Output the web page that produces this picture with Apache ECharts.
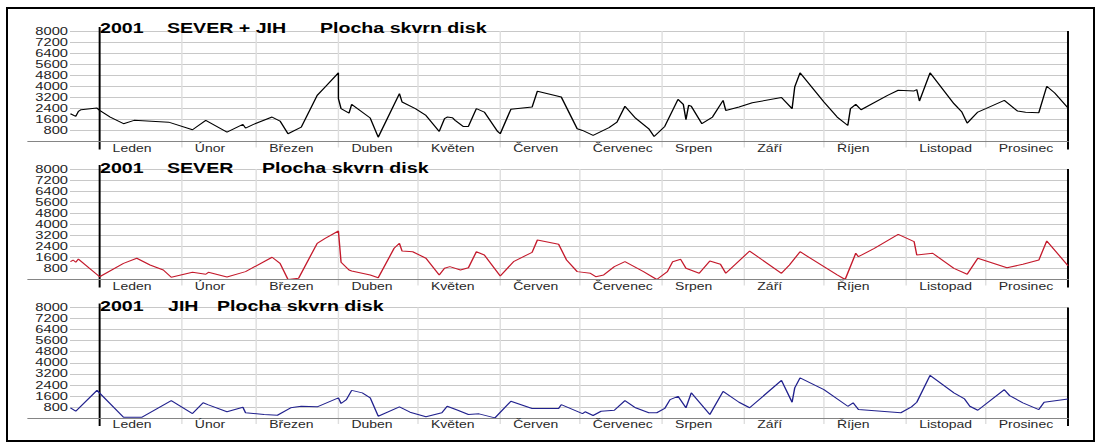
<!DOCTYPE html>
<html>
<head>
<meta charset="utf-8">
<title>2001 Plocha skvrn disk</title>
<script src="https://cdn.jsdelivr.net/npm/echarts@6/dist/echarts.min.js"></script>
<style>
  html, body { margin: 0; padding: 0; background: #fff; }
  #chart {
    position: absolute; left: 0; top: 0;
    width: 782px; height: 443px;
    /* the chart is laid out on a narrower canvas and stretched to full width,
       which gives the wide, flat lettering of the original plot */
    transform: scaleX(1.40026); transform-origin: 0 0;
  }
  #frame {
    position: absolute; left: 6px; top: 7px;
    width: 1085px; height: 431px;
    border: 2px solid #000; pointer-events: none;
  }
</style>
</head>
<body>
<div id="chart"></div>
<div id="frame"></div>
<script>
// ---- data ---------------------------------------------------------------
// x = day of year 2001 (0 = 1 January, negative = end of December 2000)
// y = sunspot area on the disk

const monthNames = ['Leden', 'Únor', 'Březen', 'Duben', 'Květen', 'Červen',
                    'Červenec', 'Srpen', 'Září', 'Říjen', 'Listopad', 'Prosinec'];
const monthStarts = [0, 31, 59, 90, 120, 151, 181, 212, 243, 273, 304, 334];
const yearEnd = 365;

const panelTitles = [
  ['2001', 'SEVER + JIH', 'Plocha skvrn disk'],
  ['2001', 'SEVER', 'Plocha skvrn disk'],
  ['2001', 'JIH', 'Plocha skvrn disk']
];

// SEVER + JIH
const totalDays = [-11, -9, -8, -7, -1, 0, 4, 9, 13, 26, 35, 40, 48, 54, 55, 58, 65, 68, 71, 76,
  82, 85, 90, 90, 91, 94, 95, 102, 105, 113, 114, 119, 123, 128, 130, 131, 133, 134, 137, 139,
  142, 145, 150, 151, 155, 163, 165, 174, 180, 182, 186, 192, 195, 198, 202, 207, 209, 213, 218, 220,
  221, 222, 223, 227, 231, 235, 236, 241, 246, 257, 261, 262, 264, 273, 278, 282, 283, 285, 287, 297,
  301, 307, 308, 309, 313, 322, 325, 327, 331, 334, 341, 346, 349, 354, 357, 360, 365];
const totalArea = [2010, 1820, 2180, 2300, 2420, 2250, 1770, 1290, 1530, 1400, 850, 1530, 680, 1240, 970, 1240, 1770, 1480, 560, 1040,
  3340, 3950, 4970, 3100, 2380, 2060, 2690, 1700, 310, 3470, 2860, 2380, 1890, 730, 1650, 1770, 1720, 1530, 1090, 1090,
  2380, 2130, 730, 560, 2330, 2490, 3640, 3220, 920, 800, 440, 1000, 1400, 2550, 1690, 920, 360, 1090, 3050, 2690,
  1580, 2620, 2550, 1290, 1770, 2980, 2250, 2500, 2800, 3180, 2380, 3950, 4970, 2860, 1770, 1160, 2380, 2690, 2300, 3340,
  3710, 3660, 3760, 2930, 4970, 2740, 2130, 1330, 2130, 2380, 2980, 2200, 2110, 2090, 4000, 3510, 2420];

// SEVER
const northDays = [-11, -10, -9, -8, 0, 9, 14, 19, 24, 27, 35, 40, 41, 48, 55, 65, 68, 71, 75, 82,
  85, 90, 91, 94, 95, 102, 105, 111, 113, 114, 118, 123, 128, 130, 132, 136, 139, 142, 145, 151,
  156, 163, 165, 173, 176, 180, 185, 187, 190, 194, 198, 205, 210, 214, 216, 219, 221, 226, 230, 234,
  236, 245, 257, 260, 264, 278, 281, 285, 286, 292, 301, 307, 308, 314, 322, 327, 331, 342, 348, 354,
  357, 365];
const northArea = [1290, 1410, 1250, 1480, 200, 1170, 1540, 1050, 690, 160, 520, 380, 520, 180, 570, 1610, 1170, 0, 90, 2620,
  2980, 3510, 1250, 690, 620, 330, 130, 2260, 2620, 2060, 2010, 1540, 330, 810, 930, 690, 850, 2010, 1770, 250,
  1290, 1970, 2860, 2550, 1410, 570, 450, 200, 330, 930, 1290, 570, 0, 570, 1290, 1460, 810, 450, 1340, 1100,
  450, 2060, 450, 1050, 2010, 330, 0, 1900, 1650, 2260, 3270, 2740, 1770, 1900, 810, 380, 1540, 850, 1100, 1410,
  2790, 1000];

// JIH
const southDays = [-11, -9, -1, 9, 16, 27, 35, 39, 41, 48, 54, 55, 62, 67, 72, 76, 82, 90, 91, 93,
  95, 99, 102, 105, 113, 117, 123, 129, 131, 135, 139, 143, 149, 155, 163, 173, 174, 182, 183, 186,
  189, 194, 198, 202, 207, 210, 213, 215, 218, 221, 223, 230, 235, 241, 245, 257, 261, 262, 264, 273,
  282, 284, 286, 302, 306, 308, 313, 322, 326, 328, 331, 341, 343, 348, 354, 356, 365];
const southArea = [740, 490, 2000, 60, 60, 1260, 320, 1100, 950, 450, 780, 380, 250, 200, 740, 850, 810, 1460, 1050, 1330,
  2000, 1820, 1460, 130, 810, 420, 90, 380, 850, 560, 250, 300, 10, 1210, 690, 690, 970, 320, 450, 180,
  490, 560, 1260, 740, 380, 380, 690, 1330, 1570, 740, 1820, 250, 1930, 1140, 740, 2720, 1140, 2180, 2900, 2050,
  850, 1100, 610, 380, 810, 1140, 3090, 1820, 1380, 850, 560, 2050, 1620, 1100, 610, 1140, 1380];

const seriesDays = [totalDays, northDays, southDays];
const seriesArea = [totalArea, northArea, southArea];
const seriesColors = ['#000000', '#c41a2c', '#22228e'];

// ---- layout ---------------------------------------------------------------
const STRETCH = 1095 / 782;          // horizontal scale applied by CSS
const sx = v => v / STRETCH;         // page x -> canvas x
const FONT = "'Liberation Sans', Arial, sans-serif";
const AREA_MAX = 8000;
const AREA_STEP = 800;
const DAY_MIN = -27;

const panelTops = [31, 169, 307.5];
const panelHeight = 110.5;
const plotLeft = 28, plotRight = 1068, gridLineLeft = 70;
const titleLefts = [[100, 167, 320], [100, 167, 262], [100, 168, 217]];
const titleTops = [21, 161, 299.5];

const grids = [], xAxes = [], yAxes = [], series = [], titles = [];

panelTops.forEach((top, p) => {
  const main = 2 * p, aux = 2 * p + 1;

  // main plotting area: days on x, area on y
  grids.push({ left: sx(plotLeft), width: sx(plotRight - plotLeft), top: top, height: panelHeight,
               outerBoundsMode: 'none' });
  // horizontal grid lines with their labels
  grids.push({ left: sx(gridLineLeft), width: sx(plotRight - gridLineLeft), top: top, height: panelHeight,
               outerBoundsMode: 'none' });

  xAxes.push({
    type: 'value', gridIndex: main, min: DAY_MIN, max: yearEnd, z: 3,
    splitLine: { show: false },
    axisTick: { show: false },
    axisLine: { onZero: false, lineStyle: { color: '#858585', width: 1.2 } },
    axisLabel: {
      customValues: monthStarts,
      formatter: v => monthNames[monthStarts.indexOf(v)],
      align: 'left', padding: [0, 0, 0, sx(13)], margin: 2,
      color: '#2a2a2a', fontSize: 10, fontFamily: FONT, hideOverlap: false
    }
  });
  xAxes.push({ type: 'value', gridIndex: aux, min: 0, max: 1, show: false });

  yAxes.push({ type: 'value', gridIndex: main, min: 0, max: AREA_MAX, show: false });
  yAxes.push({
    type: 'value', gridIndex: aux, min: 0, max: AREA_MAX, interval: AREA_STEP,
    axisLine: { show: false }, axisTick: { show: false },
    splitLine: { show: true, showMinLine: false, lineStyle: { color: '#c8c8c8', width: 1 } },
    axisLabel: { margin: sx(2), color: '#1e1e1e', fontSize: 10.5, fontFamily: FONT,
                 formatter: v => String(v),
                 showMinLabel: false, hideOverlap: false }
  });

  // month separators and the black year boundaries
  series.push({
    type: 'custom', xAxisIndex: main, yAxisIndex: main, z: 1, silent: true, animation: false,
    data: monthStarts.concat([yearEnd]),
    renderItem: (params, api) => {
      const day = api.value(0);
      const hi = api.coord([day, AREA_MAX]);
      const lo = api.coord([day, 0]);
      const edge = day === 0 || day === yearEnd;
      return {
        type: 'line',
        shape: { x1: hi[0], y1: hi[1] - (day === 0 ? 4 : 0), x2: lo[0], y2: lo[1] + (edge ? 8 : 6) },
        style: { stroke: edge ? '#000' : '#dedede', lineWidth: edge ? 1.4 : 1 }
      };
    }
  });

  series.push({
    type: 'line', xAxisIndex: main, yAxisIndex: main, z: 2,
    data: seriesDays[p].map((d, i) => [d, seriesArea[p][i]]),
    showSymbol: false, symbol: 'none', animation: false, silent: true,
    lineStyle: { color: seriesColors[p], width: 1 }
  });

  panelTitles[p].forEach((text, k) => {
    titles.push({
      text: text, left: sx(titleLefts[p][k]), top: titleTops[p], padding: 0,
      textStyle: { fontSize: 14, fontWeight: 'bold', color: '#000', fontFamily: FONT }
    });
  });
});

const chart = echarts.init(document.getElementById('chart'), null,
                           { renderer: 'svg', width: 782, height: 443 });
chart.setOption({
  backgroundColor: 'transparent',
  animation: false,
  title: titles,
  grid: grids,
  xAxis: xAxes,
  yAxis: yAxes,
  series: series
});
</script>
</body>
</html>
